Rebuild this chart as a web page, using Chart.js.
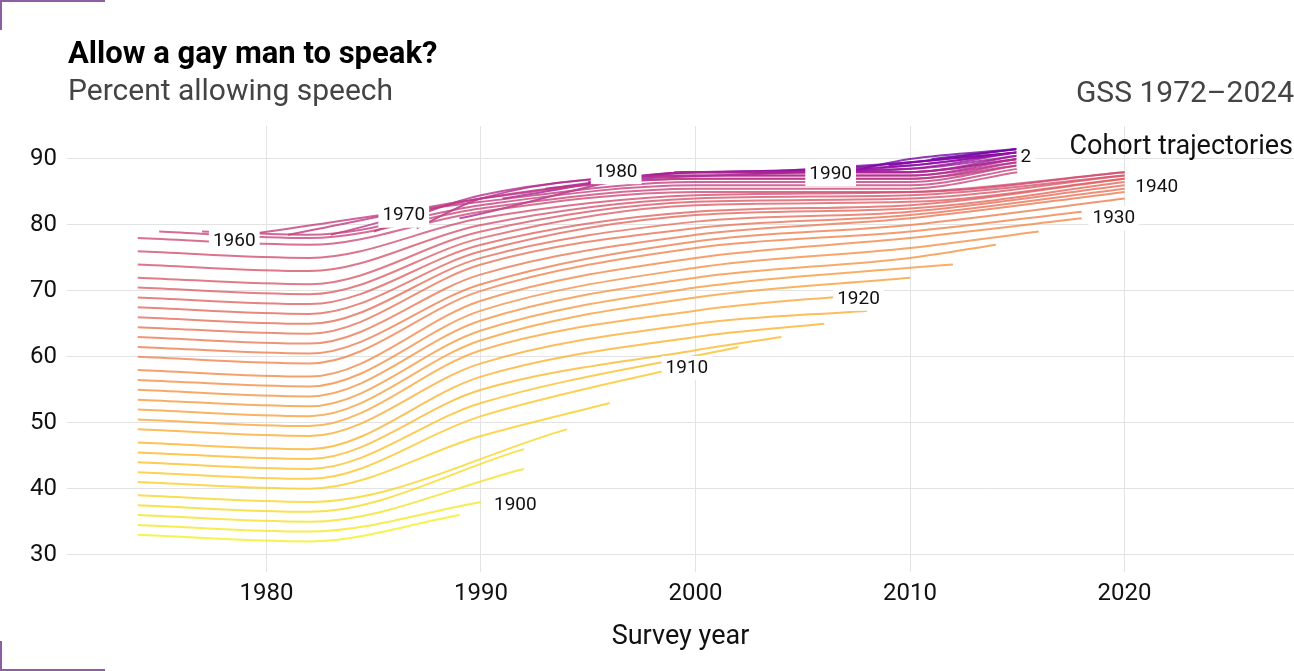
<!DOCTYPE html>
<html>
<head>
<meta charset="utf-8">
<script src="https://cdn.jsdelivr.net/npm/chart.js@4"></script>
<style>
  body { margin: 0; background: #fff; font-family: Roboto, sans-serif; }
  #wrap { position: relative; width: 1294px; height: 671px; overflow: hidden; }
  canvas { position: absolute; left: 0; top: 0; }
  .txt { position: absolute; white-space: nowrap; }
  #titulo { left: 68px; top: 34px; font-size: 31px; font-weight: bold; color: #000; }
  #subtitulo { left: 68px; top: 72px; font-size: 30px; color: #444; }
  #fuente { right: 0; top: 74px; font-size: 30px; color: #444; }
  .marca { position: absolute; background: #8e5ea2; }
</style>
</head>
<body>
<div id="wrap">
  <canvas id="grafico" width="1294" height="671"></canvas>
  <div class="txt" id="titulo">Allow a gay man to speak?</div>
  <div class="txt" id="subtitulo">Percent allowing speech</div>
  <div class="txt" id="fuente">GSS 1972–2024</div>
  <div class="marca" style="left:0;top:0;width:105px;height:2px"></div>
  <div class="marca" style="left:0;top:0;width:2px;height:30px"></div>
  <div class="marca" style="left:0;top:669px;width:105px;height:2px"></div>
  <div class="marca" style="left:0;top:641px;width:2px;height:30px"></div>
</div>
<script>
// cohortes (año de nacimiento) y sus trayectorias [año de encuesta, % que permite]
const cohortes = [1899,1901,1903,1905,1907,1909,1911,1913,1915,1917,1919,1921,1923,1925,1927,1929,1931,1933,1935,1937,1939,1941,1943,1945,1947,1949,1951,1953,1955,1957,1959,1961,1963,1965,1967,1969,1971,1973,1975,1977,1979,1981,1983,1985,1987,1989,1991,1993];
const trayectorias = [
  [[1974,33],[1982,32],[1989,36]],
  [[1974,34.5],[1982,33.5],[1990,38]],
  [[1974,36],[1982,35],[1992,43]],
  [[1974,37.5],[1982,36.5],[1992,46]],
  [[1974,39],[1982,38],[1994,49]],
  [[1974,41],[1982,40],[1990,48],[1996,53]],
  [[1974,42.5],[1982,41.5],[1990,51],[2000,59]],
  [[1974,44],[1982,43],[1990,53],[2002,61.5]],
  [[1974,45.5],[1982,44.5],[1990,55],[2000,61],[2004,63]],
  [[1974,47],[1982,46],[1990,57],[2000,63],[2006,65]],
  [[1974,49],[1982,48],[1990,59],[2000,65],[2008,67]],
  [[1974,50.5],[1982,49.5],[1990,61],[2000,67],[2008,69.5]],
  [[1974,52],[1982,51],[1990,62.5],[2000,69],[2010,72]],
  [[1974,53.5],[1982,52.5],[1990,64],[2000,70.5],[2010,73.5],[2012,74]],
  [[1974,55],[1982,54],[1990,65.5],[2000,72],[2010,75],[2014,77]],
  [[1974,56.5],[1982,55.5],[1990,67],[2000,73.5],[2010,76.5],[2016,79]],
  [[1974,58],[1982,57],[1990,68.5],[2000,75],[2010,78],[2018,81]],
  [[1974,60],[1982,59],[1990,70],[2000,76.5],[2010,79],[2018,82]],
  [[1974,61.5],[1982,60.5],[1990,71],[2000,77.5],[2010,80],[2020,84]],
  [[1974,63],[1982,62],[1990,72.5],[2000,78.5],[2010,81],[2020,85]],
  [[1974,64.5],[1982,63.5],[1990,74],[2000,79.5],[2010,81.5],[2020,85.5]],
  [[1974,66],[1982,65],[1990,75],[2000,80.5],[2010,82],[2020,86]],
  [[1974,67.5],[1982,66.5],[1990,76],[2000,81.5],[2010,82.5],[2020,86.5]],
  [[1974,69],[1982,68],[1990,77],[2000,82],[2010,83],[2020,87]],
  [[1974,70.5],[1982,69.5],[1990,78],[2000,83],[2010,83.5],[2020,87]],
  [[1974,72],[1982,71],[1990,79],[2000,83.5],[2010,84],[2020,87.5]],
  [[1974,74],[1982,73],[1990,80],[2000,84],[2010,84.5],[2020,87.5]],
  [[1974,76],[1982,75],[1990,81],[2000,84.5],[2010,85],[2020,88]],
  [[1974,78],[1982,77],[1990,82],[2000,85],[2010,85],[2020,88]],
  [[1975,79],[1982,78],[1990,82.5],[2000,85.5],[2010,85.5],[2015,88]],
  [[1977,79],[1982,78.5],[1990,83],[2000,86],[2010,86],[2015,88.5]],
  [[1979,78.5],[1990,83.5],[2000,86.5],[2010,86.5],[2015,89]],
  [[1981,78.5],[1990,84],[2000,87],[2010,87],[2015,89]],
  [[1983,78.5],[1990,84],[2000,87],[2010,87],[2015,89.5]],
  [[1985,79],[1990,84.5],[2000,87.5],[2010,87.5],[2015,89.5]],
  [[1987,79.5],[1990,84],[2000,87.5],[2010,87.5],[2015,90]],
  [[1989,81],[2000,88],[2010,88],[2015,90]],
  [[1991,84],[2000,88],[2010,88],[2015,90]],
  [[1993,85.5],[2000,88],[2010,88],[2015,90.5]],
  [[1995,86.5],[2000,88],[2010,88.5],[2015,90.5]],
  [[1997,87],[2005,88],[2010,88.5],[2015,91]],
  [[1999,88],[2005,88],[2010,89],[2015,91]],
  [[2001,88],[2010,89],[2015,91]],
  [[2003,88],[2010,89.5],[2015,91]],
  [[2005,88],[2010,89.5],[2015,91]],
  [[2007,88],[2010,90],[2015,91.5]],
  [[2009,89],[2015,91.5]],
  [[2011,90],[2015,91.5]]
];

// etiquetas de cohorte
const etiquetasTexto = ["1900","1910","1920","1930","1940","1960","1970","1980","1990","2"];
const etiquetasX = [1991.6,1999.6,2007.6,2019.5,2021.5,1978.5,1986.4,1996.3,2006.3,2015.4];
const etiquetasY = [37.5,58.3,68.8,81,85.7,77.5,81.4,88,87.7,90.3];

const ticksX = [1980,1990,2000,2010,2020];
const ticksY = [30,40,50,60,70,80,90];

// paleta plasma
const plasma = [[13,8,135],[84,2,163],[139,10,165],[185,50,137],[219,92,104],[244,136,73],[254,188,43],[240,249,33]];

function colorPlasma(t, a) {
  const p = t * (plasma.length - 1);
  const i = Math.min(Math.floor(p), plasma.length - 2);
  const f = p - i;
  const c = plasma[i].map(function (v, k) { return Math.round(v + (plasma[i + 1][k] - v) * f); });
  return "rgba(" + c.join(",") + "," + a + ")";
}

const datasets = cohortes.map(function (cohorte, i) {
  const t = 0.2 + 0.78 * (1993 - cohorte) / (1993 - 1899);
  return {
    data: trayectorias[i].map(function (p) { return { x: p[0], y: p[1] }; }),
    borderColor: colorPlasma(t, 0.8),
    borderWidth: 2,
    pointRadius: 0,
    cubicInterpolationMode: "monotone",
    fill: false
  };
});

const pluginEtiquetas = {
  id: "etiquetas",
  afterDatasetsDraw: function (chart) {
    const ctx = chart.ctx;
    const sx = chart.scales.x, sy = chart.scales.y;
    ctx.save();
    ctx.font = "19px Roboto";
    ctx.textAlign = "center";
    ctx.textBaseline = "middle";
    etiquetasTexto.forEach(function (texto, i) {
      const px = sx.getPixelForValue(etiquetasX[i]);
      const py = sy.getPixelForValue(etiquetasY[i]);
      const w = ctx.measureText(texto).width + 8;
      ctx.fillStyle = "#fff";
      ctx.fillRect(px - w / 2, py - 12, w, 24);
      ctx.fillStyle = "#111";
      ctx.fillText(texto, px, py);
    });
    ctx.font = "27px Roboto";
    ctx.textAlign = "right";
    ctx.fillStyle = "#111";
    ctx.fillText("Cohort trajectories", chart.width - 1, sy.getPixelForValue(91.8));
    ctx.restore();
  }
};

new Chart(document.getElementById("grafico").getContext("2d"), {
  type: "line",
  data: { datasets: datasets },
  plugins: [pluginEtiquetas],
  options: {
    responsive: false,
    animation: false,
    layout: { padding: { top: 126, left: 20, right: 0, bottom: 14 } },
    plugins: { legend: { display: false }, tooltip: { enabled: false } },
    scales: {
      x: {
        type: "linear",
        min: 1970.7,
        max: 2027.9,
        afterBuildTicks: function (axis) { axis.ticks = ticksX.map(function (v) { return { value: v }; }); },
        ticks: { color: "#111", font: { family: "Roboto", size: 24 }, padding: 8, callback: function (v) { return String(v); } },
        grid: { color: "#e3e3e3", drawTicks: false },
        border: { display: false },
        title: { display: true, text: "Survey year", color: "#111", font: { family: "Roboto", size: 27 }, padding: { top: 4 } }
      },
      y: {
        min: 27.4,
        max: 95,
        afterBuildTicks: function (axis) { axis.ticks = ticksY.map(function (v) { return { value: v }; }); },
        ticks: { color: "#111", font: { family: "Roboto", size: 24 }, padding: 10 },
        grid: { color: "#e3e3e3", drawTicks: false },
        border: { display: false }
      }
    }
  }
});
</script>
</body>
</html>
